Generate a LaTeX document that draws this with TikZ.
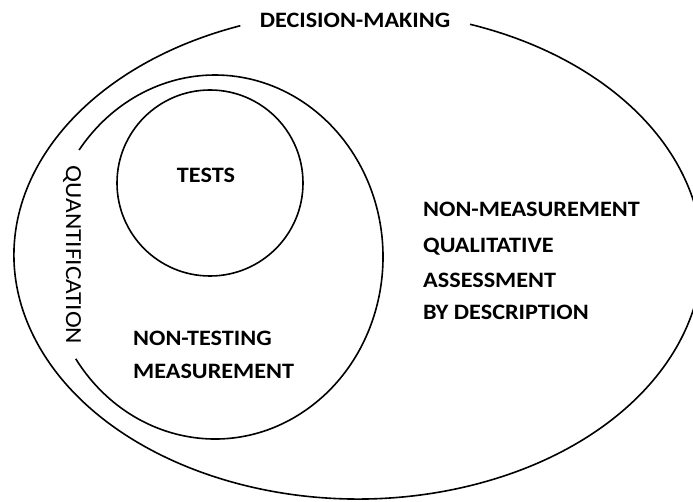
\documentclass[tikz,border=0pt]{standalone}
\usepackage{fontspec}
\setmainfont{Carlito}[FakeStretch=1.1]
\usepackage{tikz}
\tikzset{%
    ring/.style={draw=black, line width=1.6pt},
    caps/.style={inner sep=0pt, font=\fontsize{22}{26}\selectfont\bfseries},
    sidecaps/.style={inner sep=0pt, font=\fontsize{23}{27}\selectfont}
}

\begin{document}
\begin{tikzpicture}[x=1pt,y=1pt]
    \useasboundingbox (0,0) rectangle (693,501);
    \fill[white] (0,0) rectangle (693,501);
    \coordinate (outerc) at (358,246);
    \coordinate (midc) at (215,244);
    \coordinate (testc) at (210,318);
    % decision-making, open at the top for its title
    \draw[ring] (outerc) ++(110:344 and 244) arc[start angle=110, end angle=431, x radius=344, y radius=244];
    % quantification, open on the left for its title
    \draw[ring] (midc) ++(214:168 and 182) arc[start angle=214, end angle=504, x radius=168, y radius=182];
    \draw[ring] (testc) circle (93);
    \node[caps] (decision) at (355,481) {DECISION-MAKING};
    \node[sidecaps, rotate=-90] (quant) at (72,246) {QUANTIFICATION};
    \node[caps] (tests) at (206,326) {TESTS};
    \node[caps, anchor=base west] (nontest) at (133,156) {NON-TESTING};
    \node[caps, anchor=base west] (meas) at (133,123) {MEASUREMENT};
    \node[caps, anchor=base west] (nonmeas) at (423,284) {NON-MEASUREMENT};
    \node[caps, anchor=base west] (qual) at (423,248) {QUALITATIVE};
    \node[caps, anchor=base west] (assess) at (423,213) {ASSESSMENT};
    \node[caps, anchor=base west] (bydesc) at (423,181) {BY DESCRIPTION};
\end{tikzpicture}
\end{document}
